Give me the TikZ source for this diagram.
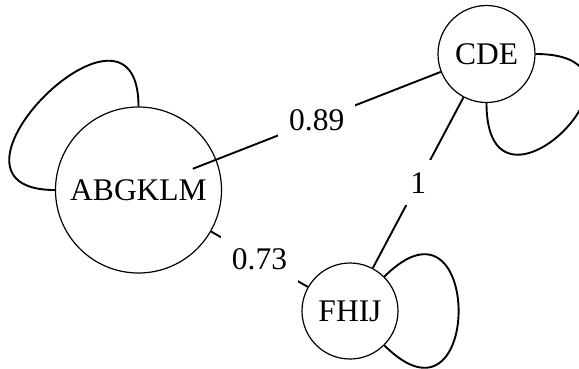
\documentclass[tikz,border=0pt]{standalone}
\usepackage{fontspec}
\setmainfont{Liberation Serif}
\usetikzlibrary{calc}
\begin{document}
\begin{tikzpicture}[x=1pt,y=-1pt,
  vertex/.style={circle,draw,line width=1.2pt,inner sep=0pt,font=\fontsize{31.5}{36}\selectfont},
  link/.style={line width=1.9pt},
  lbl/.style={fill=white,inner xsep=11pt,inner ysep=12pt,font=\fontsize{31.5}{36}\selectfont}]
\useasboundingbox (0,0) rectangle (579,368);
\clip (0,0) rectangle (579,368);
\node[vertex,minimum size=166pt] (A) at (138.5,190) {ABGKLM};
\node[vertex,minimum size=97pt] (C) at (486.5,54) {CDE};
\node[vertex,minimum size=96pt] (F) at (350,311) {FHIJ};
\coordinate (As) at ($(A)!0.156!(C)$);
\draw[link] (As) -- (C) node[midway,lbl]{0.89};
\draw[link] (A) -- (F) node[midway,lbl]{0.73};
\draw[link] (C) -- (F) node[midway,lbl]{1};
\draw[link] (A.north) .. controls +(0,-139) and +(-139,0) .. (A.west);
\draw[link] (C.east) .. controls +(140,0) and +(0,140) .. (C.south);
\draw[link] (F.45) .. controls +(99,-99) and +(99,99) .. (F.-45);
\end{tikzpicture}
\end{document}
